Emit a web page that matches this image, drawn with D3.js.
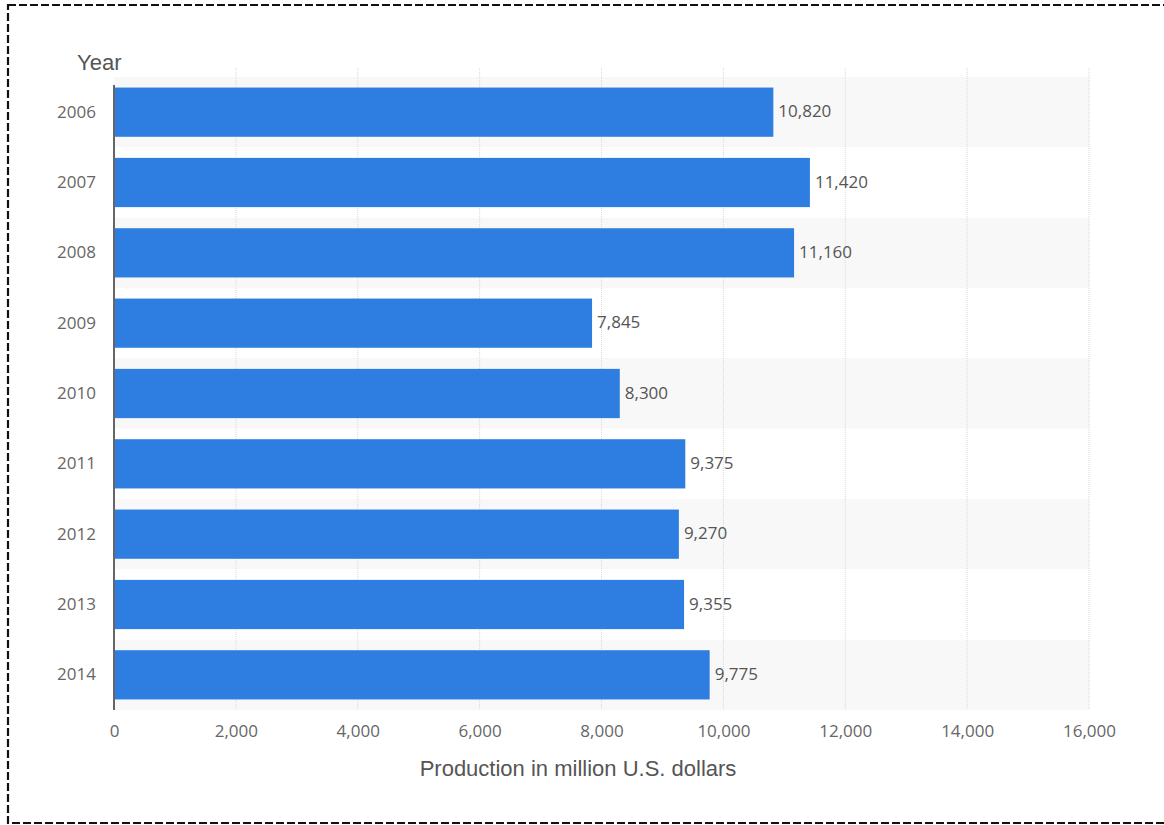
<!DOCTYPE html>
<html>
<head>
<meta charset="utf-8">
<script src="https://cdn.jsdelivr.net/npm/d3@7"></script>
<style>
    body { margin: 0; background: #fff; }
    svg { display: block; }
    .tick-label { font-family: "Open Sans", sans-serif; font-size: 17px; fill: #666; }
    .value-label { font-family: "Open Sans", sans-serif; font-size: 17px; fill: #555; }
    .title { font-family: "Liberation Sans", Arial, sans-serif; font-size: 22px; fill: #555; }
</style>
</head>
<body>
<div id="chart"></div>
<script>
(function () {
    var years = ["2006", "2007", "2008", "2009", "2010", "2011", "2012", "2013", "2014"];
    var production = [10820, 11420, 11160, 7845, 8300, 9375, 9270, 9355, 9775];
    var xTicks = [0, 2000, 4000, 6000, 8000, 10000, 12000, 14000, 16000];

    var width = 1164;
    var height = 825;

    // plot area
    var left = 114, right = 1089, top = 77, bottom = 710;

    var svg = d3.select("#chart")
        .append("svg")
        .attr("width", width)
        .attr("height", height);

    // dashed frame
    svg.append("rect")
        .attr("x", 8)
        .attr("y", 5)
        .attr("width", 1170)
        .attr("height", 818)
        .attr("fill", "none")
        .attr("stroke", "#111")
        .attr("stroke-width", 2.2)
        .attr("stroke-dasharray", "8,3");

    var x = d3.scaleLinear()
        .domain([0, 16000])
        .range([left, right]);

    var y = d3.scaleBand()
        .domain(years)
        .range([top, bottom])
        .paddingInner(0.3)
        .paddingOuter(0.15);

    var step = y.step();

    // alternating row stripes
    svg.append("g")
        .selectAll("rect")
        .data(years)
        .enter().append("rect")
        .attr("x", left)
        .attr("y", function (d) { return y(d) - y.paddingInner() * step / 2; })
        .attr("width", right - left)
        .attr("height", step)
        .attr("fill", function (d, i) { return i % 2 === 0 ? "#f8f8f8" : "#fff"; });

    // dotted vertical grid
    svg.append("g")
        .selectAll("line")
        .data(xTicks.slice(1))
        .enter().append("line")
        .attr("x1", function (d) { return x(d); })
        .attr("x2", function (d) { return x(d); })
        .attr("y1", 68)
        .attr("y2", bottom)
        .attr("stroke", "#d8d8d8")
        .attr("stroke-width", 1)
        .attr("stroke-dasharray", "1,1");

    // bars
    svg.append("g")
        .selectAll("rect")
        .data(production)
        .enter().append("rect")
        .attr("x", x(0))
        .attr("y", function (d, i) { return y(years[i]); })
        .attr("width", function (d) { return x(d) - x(0); })
        .attr("height", y.bandwidth())
        .attr("fill", "#2d7ee0");

    // value labels
    var fmt = d3.format(",");
    svg.append("g")
        .selectAll("text")
        .data(production)
        .enter().append("text")
        .attr("class", "value-label")
        .attr("x", function (d) { return x(d) + 5; })
        .attr("y", function (d, i) { return y(years[i]) + y.bandwidth() / 2; })
        .attr("dy", "0.3em")
        .text(function (d) { return fmt(d); });

    // y axis
    var yAxis = svg.append("g")
        .attr("transform", "translate(" + left + ",0)")
        .call(d3.axisLeft(y).tickSize(0).tickPadding(18));
    yAxis.select(".domain")
        .attr("d", "M0," + (top + 8) + "V" + bottom)
        .attr("stroke", "#666")
        .attr("stroke-width", 2);
    yAxis.selectAll("text").attr("class", "tick-label").attr("font-family", null).attr("font-size", null);

    // x axis
    var xAxis = svg.append("g")
        .attr("transform", "translate(0," + bottom + ")")
        .call(d3.axisBottom(x).tickValues(xTicks).tickFormat(fmt).tickSize(0).tickPadding(15));
    xAxis.select(".domain").remove();
    xAxis.selectAll("text").attr("class", "tick-label").attr("font-family", null).attr("font-size", null);

    // titles
    svg.append("text")
        .attr("class", "title")
        .attr("x", 77)
        .attr("y", 70)
        .text("Year");

    svg.append("text")
        .attr("class", "title")
        .attr("x", 578)
        .attr("y", 776)
        .attr("text-anchor", "middle")
        .text("Production in million U.S. dollars");
})();
</script>
</body>
</html>
